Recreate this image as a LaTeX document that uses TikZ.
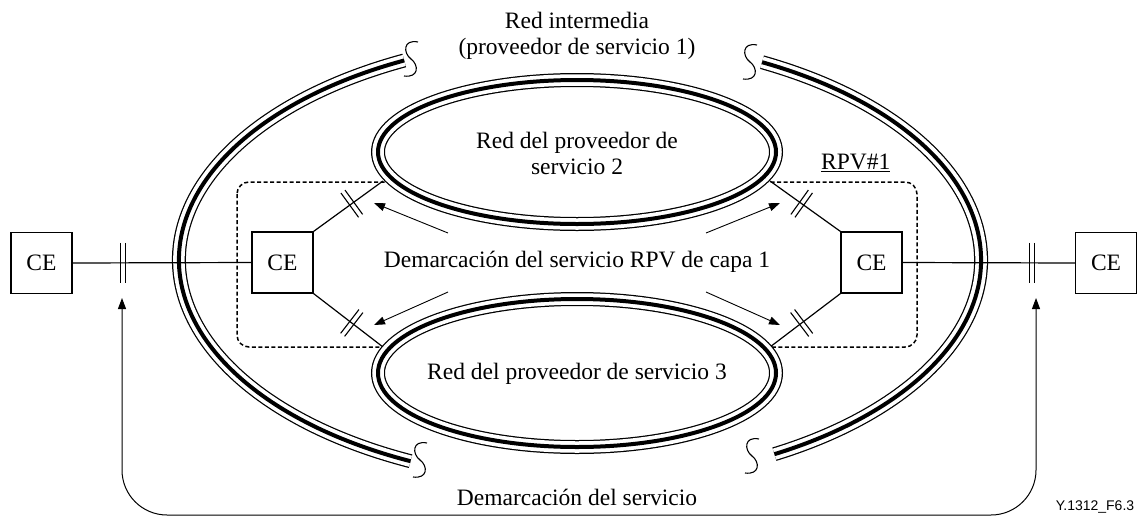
\documentclass[tikz,border=0pt]{standalone}
\usepackage{fontspec}
\setmainfont{Liberation Serif}
\newfontfamily\figsans{Liberation Sans}
\usetikzlibrary{arrows.meta,calc}
\begin{document}
\begin{tikzpicture}[x=1pt,y=-1pt,
  txt/.style={font=\fontsize{23.5}{26}\selectfont,align=center,inner sep=0pt},
  cebox/.style={draw,line width=1.2pt,minimum width=61pt,minimum height=61pt,inner sep=0pt,font=\fontsize{23.5}{26}\selectfont},
  conn/.style={line width=1.2pt},
  arr/.style={line width=0.9pt,-{Triangle[length=11pt,width=8pt]}},
  tripA/.style={line width=14pt,black},
  tripB/.style={line width=11.5pt,white},
  tripC/.style={line width=4pt,black},
  dashbox/.style={line width=1.5pt,dash pattern=on 4pt off 2.5pt,rounded corners=12pt},
  dbar/.pic={\draw[line width=1.1pt] (-2.5,-15) -- (-2.5,15) (2.5,-15) -- (2.5,15);},
  hbar/.pic={\draw[line width=1.1pt] (-2.5,-20) -- (-2.5,20) (2.5,-20) -- (2.5,20);},
  smark/.pic={\draw[line width=1.1pt] (7,-17) .. controls (-8,-20) and (-8,-6) .. (0,0) .. controls (8,6) and (8,19) .. (-7,17);},
]
\useasboundingbox (0,0) rectangle (1147,517);

% outer network (provider 1): two broken arcs
\foreach \s in {tripA,tripB,tripC}{
  \draw[\s] (580,260) ++(115:401 and 222) arc[start angle=115,end angle=244,x radius=401,y radius=222];
  \draw[\s] (580,260) ++(-63:401 and 222) arc[start angle=-63,end angle=61,x radius=401,y radius=222];
}
\pic at (411,59) {smark};
\pic at (750,62) {smark};
\pic at (420,460) {smark};
\pic at (752,456) {smark};

% dashed VPN box
\draw[dashbox] (237,182) rectangle (917,347);

% CE nodes
\node[cebox] (ce1) at (41.5,263) {CE};
\node[cebox] (ce2) at (282.5,262.5) {CE};
\node[cebox] (ce3) at (871.5,262.5) {CE};
\node[cebox] (ce4) at (1106,263) {CE};

% attachment points on provider networks
\coordinate (t1) at (383,181);
\coordinate (b1) at (383,347);
\coordinate (t2) at (770,181);
\coordinate (b2) at (770,347);

\draw[conn] (ce2.north east) -- (t1) pic[pos=0.55,sloped]{dbar};
\draw[conn] (ce2.south east) -- (b1) pic[pos=0.55,sloped]{dbar};
\draw[conn] (ce3.north west) -- (t2) pic[pos=0.55,sloped]{dbar};
\draw[conn] (ce3.south west) -- (b2) pic[pos=0.55,sloped]{dbar};

% inner provider networks
\draw[tripA,fill=white] (577,152) ellipse[x radius=199,y radius=72];
\draw[tripB] (577,152) ellipse[x radius=199,y radius=72];
\draw[tripC] (577,152) ellipse[x radius=199,y radius=72];
\draw[tripA,fill=white] (577,373) ellipse[x radius=199,y radius=74];
\draw[tripB] (577,373) ellipse[x radius=199,y radius=74];
\draw[tripC] (577,373) ellipse[x radius=199,y radius=74];

\node[txt] (n2) at (577,153) {Red del proveedor de\\servicio 2};
\node[txt] (n3) at (577,374) {Red del proveedor de servicio 3};
\node[txt] (n1) at (577,36) {Red intermedia\\(proveedor de servicio 1)};
\node[txt] (dem1) at (577,262) {Demarcación del servicio RPV de capa 1};
\node[txt,anchor=south west] (rpv) at (821,172) {\underline{RPV\#1}};

% arrows from the layer-1 demarcation label
\coordinate (a1s) at (448,233); \coordinate (a1e) at (374,203);
\coordinate (a2s) at (448,292); \coordinate (a2e) at (374,325);
\coordinate (a3s) at (706,233); \coordinate (a3e) at (780,203);
\coordinate (a4s) at (706,292); \coordinate (a4e) at (780,325);
\draw[arr] (a1s) -- (a1e);
\draw[arr] (a2s) -- (a2e);
\draw[arr] (a3s) -- (a3e);
\draw[arr] (a4s) -- (a4e);

% access links
\draw[conn] (ce1.east) -- (ce2.west) pic[pos=0.28]{hbar};
\draw[conn] (ce3.east) -- (ce4.west) pic[pos=0.75]{hbar};

% service demarcation
\coordinate (dl) at (122,298);
\coordinate (dr) at (1036,298);
\coordinate (bot) at (577,515);
\draw[line width=1pt,{Triangle[length=11pt,width=8pt]}-{Triangle[length=11pt,width=8pt]},rounded corners=45pt] (dl) |- (bot) -| (dr);
\node[txt] (dem) at (577,497) {Demarcación del servicio};
\node[font=\figsans\fontsize{14}{16}\selectfont,inner sep=0pt] (fig) at (1095,507) {Y.1312\_F6.3};
\end{tikzpicture}
\end{document}
